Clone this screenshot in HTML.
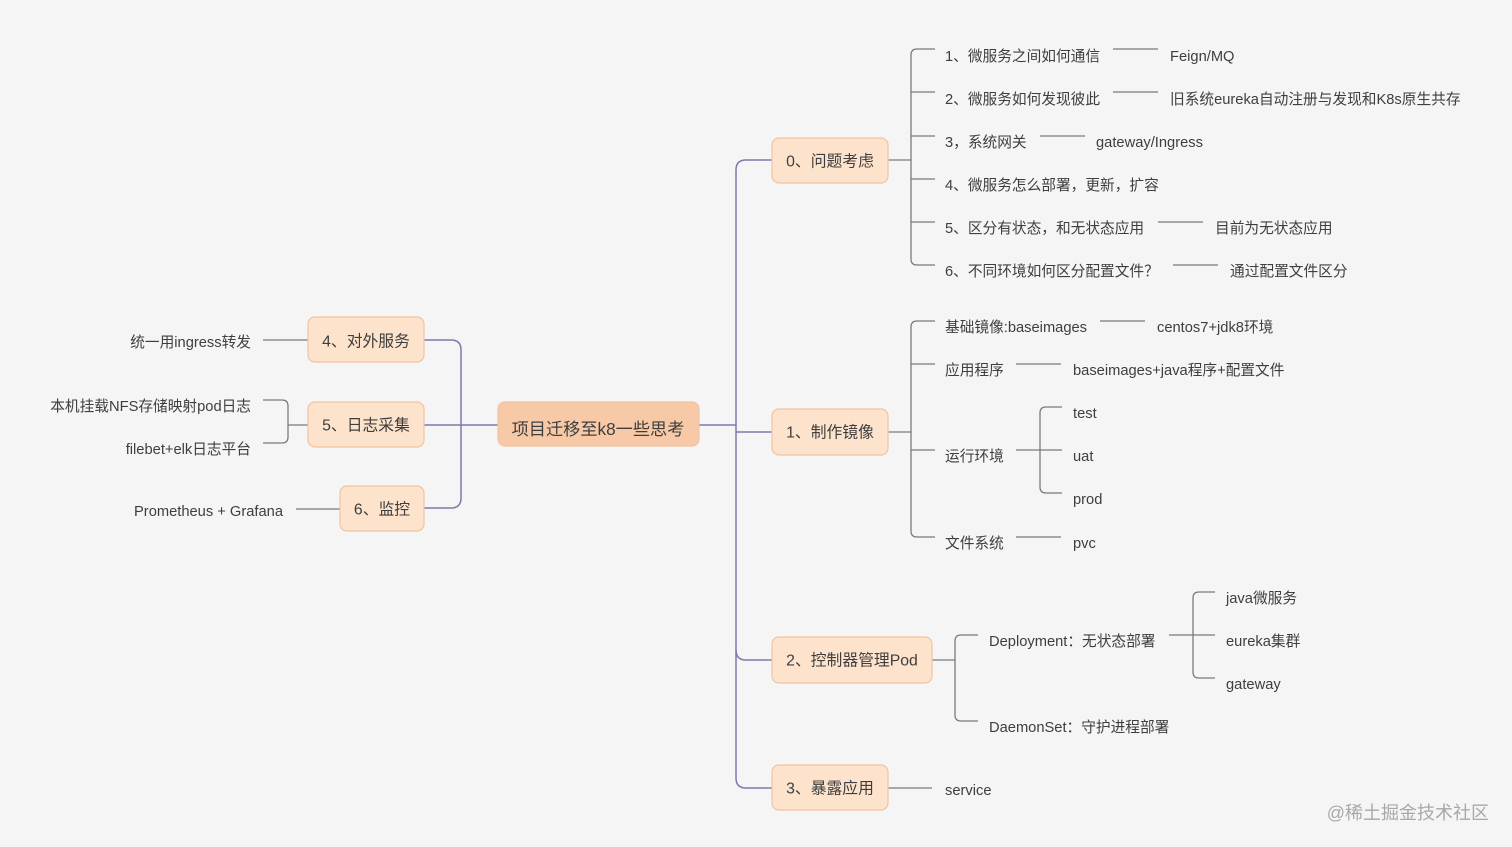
<!DOCTYPE html>
<html><head><meta charset="utf-8"><style>
html,body{margin:0;padding:0;background:#f5f5f5;}
svg{display:block;}
text{font-family:"Liberation Sans","Noto Sans CJK SC",sans-serif;fill:#3e3e3e;dominant-baseline:central;}
</style></head><body>
<svg width="1512" height="847" viewBox="0 0 1512 847" xmlns="http://www.w3.org/2000/svg">
<rect width="1512" height="847" fill="#f5f5f5"/>
<g fill="none" stroke="#7d7aab" stroke-width="1.5">
<path d="M699 425 H736"/>
<path d="M772 160 H746 Q736 160 736 170 V778 Q736 788 746 788 H772"/>
<path d="M736 432 H772"/>
<path d="M736 650 Q736 660 746 660 H772"/>
<path d="M498 425 H461"/>
<path d="M424 340 H451 Q461 340 461 350 V498 Q461 508 451 508 H424"/>
<path d="M461 425 H424"/>
</g>
<g fill="none" stroke="#7a7a7a" stroke-width="1.3">
<path d="M888 160 H911"/>
<path d="M935 49 H917 Q911 49 911 55 V259 Q911 265 917 265 H935"/>
<path d="M911 92 H935 M911 136 H935 M911 179 H935 M911 222 H935"/>
<path d="M1113 49 H1158 M1113 92 H1158 M1040 136 H1085 M1158 222 H1203 M1173 265 H1218"/>
<path d="M888 432 H911"/>
<path d="M935 321 H917 Q911 321 911 327 V531 Q911 537 917 537 H935"/>
<path d="M911 364 H935 M911 450 H935"/>
<path d="M1100 321 H1145 M1016 364 H1061 M1016 450 H1040 M1016 537 H1061"/>
<path d="M1062 407 H1046 Q1040 407 1040 413 V487 Q1040 493 1046 493 H1062 M1040 450 H1062"/>
<path d="M932 660 H955"/>
<path d="M978 635 H961 Q955 635 955 641 V715 Q955 721 961 721 H978"/>
<path d="M1169 635 H1193"/>
<path d="M1215 592 H1199 Q1193 592 1193 598 V672 Q1193 678 1199 678 H1215 M1193 635 H1215"/>
<path d="M888 788 H932"/>
<path d="M308 340 H263"/>
<path d="M308 425 H288"/>
<path d="M263 400 H282 Q288 400 288 406 V437 Q288 443 282 443 H263"/>
<path d="M340 509 H296"/>
</g>
<g stroke="#f0c4a0" stroke-width="1.2">
<rect x="498" y="402" width="201" height="44" rx="7" fill="#f8c9a6"/>
<rect x="772" y="138" width="116" height="45" rx="7" fill="#fde3cc"/>
<rect x="772" y="409" width="116" height="46" rx="7" fill="#fde3cc"/>
<rect x="772" y="637" width="160" height="46" rx="7" fill="#fde3cc"/>
<rect x="772" y="765" width="116" height="45" rx="7" fill="#fde3cc"/>
<rect x="308" y="317" width="116" height="45" rx="7" fill="#fde3cc"/>
<rect x="308" y="402" width="116" height="45" rx="7" fill="#fde3cc"/>
<rect x="340" y="486" width="84" height="45" rx="7" fill="#fde3cc"/>
</g>
<text x="598" y="429" font-size="17.2" text-anchor="middle">项目迁移至k8一些思考</text>
<g font-size="15.8" text-anchor="middle">
<text x="830" y="162">0、问题考虑</text>
<text x="830" y="433">1、制作镜像</text>
<text x="852" y="661">2、控制器管理Pod</text>
<text x="830" y="789">3、暴露应用</text>
<text x="366" y="342">4、对外服务</text>
<text x="366" y="426">5、日志采集</text>
<text x="382" y="510">6、监控</text>
</g>
<g font-size="14.7">
<text x="945" y="57">1、微服务之间如何通信</text>
<text x="1170" y="57">Feign/MQ</text>
<text x="945" y="100">2、微服务如何发现彼此</text>
<text x="1170" y="100">旧系统eureka自动注册与发现和K8s原生共存</text>
<text x="945" y="143">3，系统网关</text>
<text x="1096" y="143">gateway/Ingress</text>
<text x="945" y="186">4、微服务怎么部署，更新，扩容</text>
<text x="945" y="229">5、区分有状态，和无状态应用</text>
<text x="1215" y="229">目前为无状态应用</text>
<text x="945" y="272">6、不同环境如何区分配置文件？</text>
<text x="1230" y="272">通过配置文件区分</text>
<text x="945" y="328">基础镜像:baseimages</text>
<text x="1157" y="328">centos7+jdk8环境</text>
<text x="945" y="371">应用程序</text>
<text x="1073" y="371">baseimages+java程序+配置文件</text>
<text x="945" y="457">运行环境</text>
<text x="1073" y="414">test</text>
<text x="1073" y="457">uat</text>
<text x="1073" y="500">prod</text>
<text x="945" y="544">文件系统</text>
<text x="1073" y="544">pvc</text>
<text x="989" y="642">Deployment：无状态部署</text>
<text x="1226" y="599">java微服务</text>
<text x="1226" y="642">eureka集群</text>
<text x="1226" y="685">gateway</text>
<text x="989" y="728">DaemonSet：守护进程部署</text>
<text x="945" y="791">service</text>
<text x="251" y="343" text-anchor="end">统一用ingress转发</text>
<text x="251" y="407" text-anchor="end">本机挂载NFS存储映射pod日志</text>
<text x="251" y="450" text-anchor="end">filebet+elk日志平台</text>
<text x="283" y="512" text-anchor="end">Prometheus + Grafana</text>
</g>
<text x="1489" y="813" font-size="18" text-anchor="end" style="fill:#a8a8a8">@稀土掘金技术社区</text>
</svg>
</body></html>
